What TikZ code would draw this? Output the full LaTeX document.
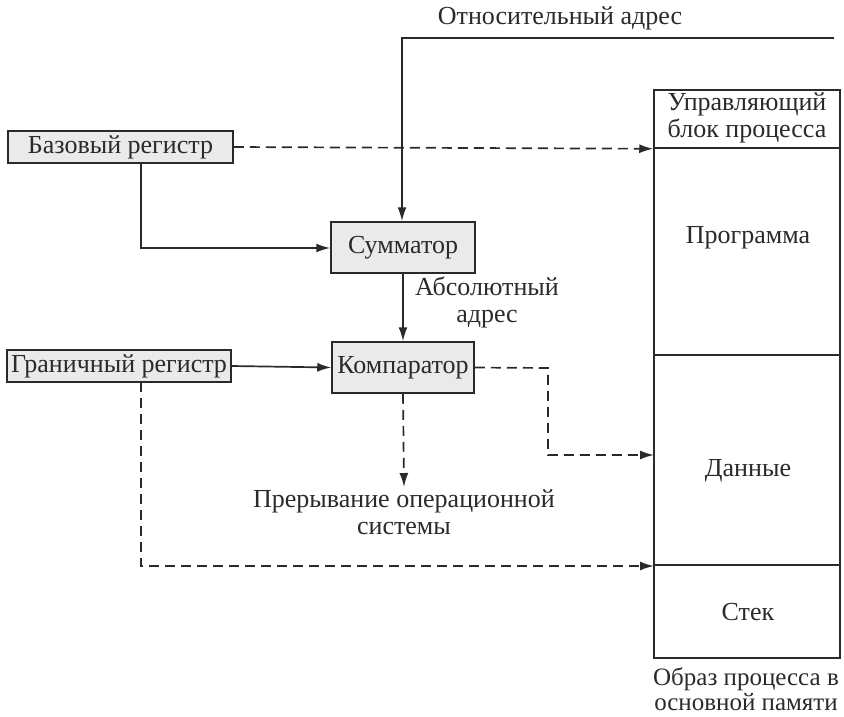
\documentclass[tikz,border=0pt]{standalone}
\usepackage{fontspec}
\setmainfont{Liberation Serif}
\usetikzlibrary{arrows.meta}
\definecolor{ink}{HTML}{2A2A2A}
\definecolor{boxfill}{HTML}{EAEAEA}
\begin{document}
\begin{tikzpicture}[x=1pt,y=-1pt,
  every node/.style={font=\fontsize{26}{27}\selectfont, text=ink},
  regbox/.style={draw=ink, line width=1.5pt, fill=boxfill, inner sep=0pt},
  membox/.style={draw=ink, line width=1.5pt, fill=white, inner sep=0pt, minimum width=186pt},
  conn/.style={draw=ink, line width=1.7pt, -{Latex[length=14pt,width=9pt]}},
  dconn/.style={conn, dash pattern=on 10pt off 6pt},
  lbl/.style={align=center, inner sep=0pt}
]
\useasboundingbox (0,0) rectangle (844,716);
% registers and units
\node[regbox, minimum width=225pt, minimum height=32pt] (base) at (120.5,147) {Базовый регистр};
\node[regbox, minimum width=224pt, minimum height=32pt] (bound) at (119,366) {Граничный регистр};
\node[regbox, minimum width=144pt, minimum height=51pt] (sum) at (403,247.5) {Сумматор};
\node[regbox, minimum width=142pt, minimum height=51pt] (comp) at (403,367.5) {Компаратор};
% memory image
\node[membox, minimum height=58pt] (ubp) at (747,119) {};
\node[membox, minimum height=207pt] (prog) at (747,251.5) {};
\node[membox, minimum height=210pt] (data) at (747,460) {};
\node[membox, minimum height=93pt] (stack) at (747,611.5) {};
\node[lbl] (ubptext) at (747,118) {Управляющий\\блок процесса};
\node[lbl] (progtext) at (748,238) {Программа};
\node[lbl] (datatext) at (748,471) {Данные};
\node[lbl] (stacktext) at (748,612) {Стек};
\node[lbl, anchor=south, font=\fontsize{25}{25}\selectfont] (cap) at (746,711) {Образ процесса в\\основной памяти};
% labels
\node[lbl] (rel) at (560,18) {Относительный адрес};
\node[lbl] (abs) at (487,302) {Абсолютный\\адрес};
\node[lbl, anchor=north] (intr) at (404,489) {Прерывание операционной\\системы};
% coordinates
\coordinate (relstart) at (834,38);
\coordinate (relcorner) at (402,38);
\coordinate (basecorner) at (141,248);
\coordinate (compcorner1) at (548,368);
\coordinate (compcorner2) at (548,455);
\coordinate (datain) at (654,455);
\coordinate (boundtop) at (141,382);
\coordinate (boundcorner) at (141,566);
\coordinate (stackin) at (654,566);
\coordinate (intrtip) at (404,487);
% solid connectors
\draw[conn] (relstart) -- (relcorner) -- (relcorner |- sum.north);
\draw[conn] (base.south -| basecorner) -- (basecorner) -- (sum.west |- basecorner);
\draw[conn] (sum.south) -- (comp.north);
\draw[conn] (bound.east) -- (comp.west);
% dashed connectors
\draw[dconn] (base.east) -- (ubp.south west);
\draw[dconn] (comp.east) -- (compcorner1) -- (compcorner2) -- (datain);
\draw[dconn] (comp.south) -- (intrtip);
\draw[dconn] (boundtop) -- (boundcorner) -- (stackin);
\end{tikzpicture}
\end{document}
